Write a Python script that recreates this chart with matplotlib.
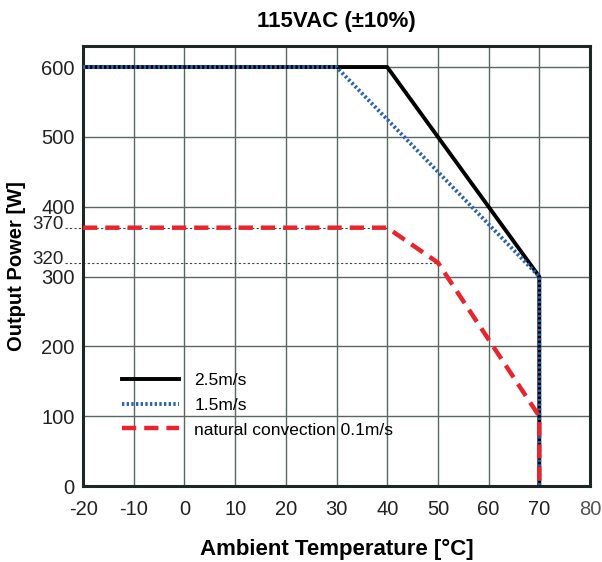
import matplotlib.pyplot as plt

plt.rcParams['font.family'] = ['Liberation Sans', 'DejaVu Sans']
plt.rcParams['axes.unicode_minus'] = False

# curve data
temp_25 = [-20, 40, 70, 70]
power_25 = [600, 600, 300, 0]
temp_15 = [-20, 30, 70, 70]
power_15 = [600, 600, 300, 0]
temp_nat = [-20, 40, 50, 60, 70, 70]
power_nat = [370, 370, 320, 210, 100, 0]

x_ticks = [-20, -10, 0, 10, 20, 30, 40, 50, 60, 70, 80]
y_ticks = [0, 100, 200, 300, 400, 500, 600]
extra_marks = [(370, 40), (320, 50)]  # (power, temperature where leader ends)

fig = plt.figure(figsize=(6.02, 5.62), dpi=100)
ax = fig.add_axes([0.138, 0.135, 0.842, 0.783])

ax.set_xlim(-20, 80)
ax.set_ylim(0, 630)
ax.set_xticks(x_ticks)
ax.set_yticks(y_ticks)
ax.grid(True, color='#5a6660', linewidth=1.0)
ax.tick_params(length=0, labelsize=14.5, colors='#222222')
ax.tick_params(axis='x', pad=10)
ax.tick_params(axis='y', pad=6)
ax.get_xticklabels()[-1].set_color('#555555')
for s in ax.spines.values():
    s.set_linewidth(2.2)
    s.set_color('#1d2826')

ax.plot(temp_25, power_25, color='black', linewidth=2.8, label='2.5m/s', zorder=3)
ax.plot(temp_15, power_15, color='#2a62b0', linewidth=2.8, linestyle=(0, (0.6, 0.6)),
        label='1.5m/s', zorder=4)
ax.plot(temp_nat, power_nat, color='#e8252d', linewidth=3.2, linestyle=(0, (3.2, 1.8)),
        label='natural convection 0.1m/s', zorder=5)

# leader lines for the extra 370 / 320 marks
for p, t in extra_marks:
    ax.plot([-23.6, t], [p, p], color='#444444', linewidth=0.8, linestyle=(0, (2, 2)),
            clip_on=False, zorder=2)
    ax.text(-23.9, p + 4, str(p), ha='right', va='center', fontsize=13.5, color='#222222')

ax.legend(loc='lower left', bbox_to_anchor=(0.045, 0.075), frameon=False, fontsize=12.5,
          handlelength=3.3, handletextpad=0.9, labelspacing=0.55)

ax.set_title('115VAC (±10%)', fontsize=16, fontweight='bold', pad=14)
ax.set_xlabel('Ambient Temperature [°C]', fontsize=16, fontweight='bold', labelpad=14)
ax.set_ylabel('Output Power [W]', fontsize=14.5, fontweight='bold')
ax.yaxis.set_label_coords(-0.112, 0.5)

fig.savefig('out.png', dpi=100)
